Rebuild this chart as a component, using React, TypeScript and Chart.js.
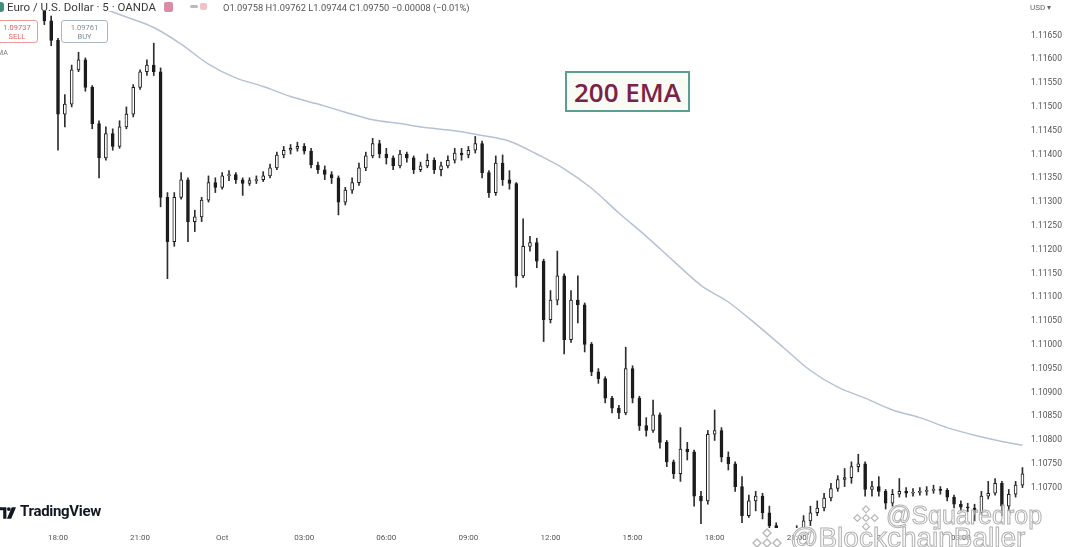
import React, { useEffect, useRef } from 'react';
import { Chart, registerables } from 'chart.js';

Chart.register(...registerables);

// ---- Data (EUR/USD, 15-minute candles) ----
const CANDLE_START_MIN = -30; // minutes relative to 18:00 of the first day
const CANDLE_STEP_MIN = 15;

const opens = [
  1.11743, 1.11681, 1.11640, 1.11485, 1.11506, 1.11578, 1.11599, 1.11541, 1.11465, 1.11393,
  1.11444, 1.11417, 1.11458, 1.11485, 1.11541, 1.11574, 1.11588, 1.11574, 1.11310, 1.11217,
  1.11310, 1.11347, 1.11259, 1.11269, 1.11304, 1.11341, 1.11331, 1.11355, 1.11358, 1.11347,
  1.11339, 1.11345, 1.11347, 1.11355, 1.11372, 1.11399, 1.11409, 1.11413, 1.11417, 1.11407,
  1.11378, 1.11368, 1.11358, 1.11351, 1.11300, 1.11325, 1.11341, 1.11372, 1.11397, 1.11423,
  1.11401, 1.11393, 1.11376, 1.11401, 1.11393, 1.11368, 1.11376, 1.11388, 1.11368, 1.11376,
  1.11388, 1.11403, 1.11399, 1.11409, 1.11423, 1.11362, 1.11320, 1.11382, 1.11347, 1.11339,
  1.11145, 1.11207, 1.11215, 1.11176, 1.11053, 1.11094, 1.11145, 1.11011, 1.11094, 1.11084,
  1.11001, 1.10943, 1.10929, 1.10888, 1.10867, 1.10857, 1.10950, 1.10888, 1.10830, 1.10820,
  1.10853, 1.10795, 1.10754, 1.10729, 1.10781, 1.10775, 1.10682, 1.10672, 1.10812, 1.10820,
  1.10764, 1.10750, 1.10702, 1.10641, 1.10672, 1.10682, 1.10647, 1.10620, 1.10589, 1.10573,
  1.10579, 1.10599, 1.10630, 1.10647, 1.10657, 1.10678, 1.10698, 1.10717, 1.10721, 1.10744,
  1.10750, 1.10696, 1.10702, 1.10692, 1.10667, 1.10686, 1.10692, 1.10688, 1.10690, 1.10692,
  1.10694, 1.10696, 1.10694, 1.10680, 1.10665, 1.10659, 1.10657, 1.10647, 1.10682, 1.10688,
  1.10709, 1.10661, 1.10686, 1.10705,
];

const highs = [
  1.11753, 1.11691, 1.11644, 1.11526, 1.11588, 1.11615, 1.11603, 1.11545, 1.11471, 1.11458,
  1.11454, 1.11471, 1.11500, 1.11547, 1.11578, 1.11599, 1.11634, 1.11582, 1.11320, 1.11320,
  1.11362, 1.11351, 1.11283, 1.11310, 1.11355, 1.11351, 1.11362, 1.11366, 1.11362, 1.11351,
  1.11351, 1.11355, 1.11364, 1.11380, 1.11405, 1.11417, 1.11421, 1.11426, 1.11423, 1.11413,
  1.11384, 1.11376, 1.11364, 1.11355, 1.11331, 1.11351, 1.11382, 1.11405, 1.11434, 1.11430,
  1.11413, 1.11397, 1.11409, 1.11405, 1.11397, 1.11384, 1.11401, 1.11393, 1.11384, 1.11397,
  1.11413, 1.11413, 1.11417, 1.11438, 1.11428, 1.11366, 1.11397, 1.11399, 1.11366, 1.11341,
  1.11265, 1.11228, 1.11224, 1.11180, 1.11114, 1.11197, 1.11149, 1.11114, 1.11145, 1.11088,
  1.11005, 1.10950, 1.10933, 1.10892, 1.10873, 1.10995, 1.10956, 1.10892, 1.10847, 1.10884,
  1.10857, 1.10799, 1.10758, 1.10826, 1.10795, 1.10779, 1.10692, 1.10820, 1.10863, 1.10826,
  1.10775, 1.10754, 1.10723, 1.10684, 1.10692, 1.10688, 1.10661, 1.10626, 1.10599, 1.10593,
  1.10620, 1.10641, 1.10661, 1.10672, 1.10688, 1.10709, 1.10725, 1.10740, 1.10754, 1.10770,
  1.10754, 1.10713, 1.10723, 1.10696, 1.10696, 1.10719, 1.10700, 1.10698, 1.10700, 1.10702,
  1.10705, 1.10702, 1.10698, 1.10684, 1.10672, 1.10667, 1.10665, 1.10692, 1.10713, 1.10719,
  1.10713, 1.10696, 1.10713, 1.10742,
];

const lows = [
  1.11673, 1.11629, 1.11409, 1.11458, 1.11500, 1.11574, 1.11533, 1.11454, 1.11351, 1.11388,
  1.11409, 1.11413, 1.11454, 1.11479, 1.11537, 1.11566, 1.11566, 1.11290, 1.11139, 1.11207,
  1.11306, 1.11217, 1.11238, 1.11259, 1.11300, 1.11320, 1.11327, 1.11345, 1.11339, 1.11314,
  1.11335, 1.11339, 1.11343, 1.11351, 1.11368, 1.11393, 1.11401, 1.11407, 1.11401, 1.11372,
  1.11360, 1.11347, 1.11339, 1.11273, 1.11294, 1.11318, 1.11335, 1.11366, 1.11393, 1.11393,
  1.11380, 1.11368, 1.11372, 1.11384, 1.11360, 1.11364, 1.11372, 1.11360, 1.11355, 1.11372,
  1.11382, 1.11388, 1.11393, 1.11403, 1.11351, 1.11310, 1.11314, 1.11335, 1.11327, 1.11121,
  1.11141, 1.11197, 1.11162, 1.11007, 1.11046, 1.11084, 1.10981, 1.11005, 1.11046, 1.10985,
  1.10935, 1.10919, 1.10878, 1.10857, 1.10845, 1.10853, 1.10878, 1.10820, 1.10808, 1.10816,
  1.10783, 1.10744, 1.10719, 1.10713, 1.10758, 1.10661, 1.10624, 1.10665, 1.10799, 1.10754,
  1.10737, 1.10692, 1.10626, 1.10637, 1.10651, 1.10634, 1.10606, 1.10569, 1.10558, 1.10558,
  1.10573, 1.10589, 1.10620, 1.10641, 1.10651, 1.10672, 1.10692, 1.10702, 1.10709, 1.10733,
  1.10682, 1.10682, 1.10682, 1.10655, 1.10661, 1.10680, 1.10680, 1.10682, 1.10684, 1.10684,
  1.10688, 1.10686, 1.10672, 1.10657, 1.10651, 1.10649, 1.10630, 1.10643, 1.10676, 1.10684,
  1.10641, 1.10651, 1.10680, 1.10700,
];

const closes = [
  1.11681, 1.11640, 1.11485, 1.11506, 1.11578, 1.11599, 1.11541, 1.11465, 1.11393, 1.11444,
  1.11417, 1.11458, 1.11485, 1.11541, 1.11574, 1.11588, 1.11574, 1.11310, 1.11217, 1.11310,
  1.11347, 1.11259, 1.11269, 1.11304, 1.11341, 1.11331, 1.11355, 1.11358, 1.11347, 1.11339,
  1.11345, 1.11347, 1.11355, 1.11372, 1.11399, 1.11409, 1.11413, 1.11417, 1.11407, 1.11378,
  1.11368, 1.11358, 1.11351, 1.11300, 1.11325, 1.11341, 1.11372, 1.11397, 1.11423, 1.11401,
  1.11393, 1.11376, 1.11401, 1.11393, 1.11368, 1.11376, 1.11388, 1.11368, 1.11376, 1.11388,
  1.11403, 1.11399, 1.11409, 1.11423, 1.11362, 1.11320, 1.11382, 1.11347, 1.11339, 1.11145,
  1.11207, 1.11215, 1.11176, 1.11053, 1.11094, 1.11145, 1.11011, 1.11094, 1.11084, 1.11001,
  1.10943, 1.10929, 1.10888, 1.10867, 1.10857, 1.10950, 1.10888, 1.10830, 1.10820, 1.10853,
  1.10795, 1.10754, 1.10729, 1.10781, 1.10775, 1.10682, 1.10672, 1.10812, 1.10820, 1.10764,
  1.10750, 1.10702, 1.10641, 1.10672, 1.10682, 1.10647, 1.10620, 1.10589, 1.10573, 1.10579,
  1.10599, 1.10630, 1.10647, 1.10657, 1.10678, 1.10698, 1.10717, 1.10721, 1.10744, 1.10750,
  1.10696, 1.10702, 1.10692, 1.10667, 1.10686, 1.10692, 1.10688, 1.10690, 1.10692, 1.10694,
  1.10696, 1.10694, 1.10680, 1.10665, 1.10659, 1.10657, 1.10647, 1.10682, 1.10688, 1.10709,
  1.10661, 1.10686, 1.10705, 1.10729,
];

// 200 EMA
const emaMinutes = [
  -30, 30, 90, 150, 210, 270, 330, 390, 450, 510, 570, 630, 690, 750, 810, 870, 930, 990,
  1050, 1110, 1170, 1230, 1290, 1350, 1410, 1470, 1530, 1590, 1650, 1710, 1770, 1830, 1890,
  1950, 2010, 2070, 2115,
];
const emaValues = [
  1.11753, 1.11732, 1.11710, 1.11689, 1.11667, 1.11632, 1.11590, 1.11561, 1.11543, 1.11522,
  1.11506, 1.11489, 1.11473, 1.11465, 1.11456, 1.11450, 1.11440, 1.11428, 1.11401, 1.11370,
  1.11329, 1.11277, 1.11228, 1.11176, 1.11125, 1.11090, 1.11044, 1.10995, 1.10946, 1.10911,
  1.10888, 1.10863, 1.10847, 1.10826, 1.10810, 1.10797, 1.10789,
];

const timeTickMinutes = [0, 180, 360, 540, 720, 900, 1080, 1260, 1440, 1620, 1800, 1980];
const timeTickLabels = ['18:00', '21:00', 'Oct', '03:00', '06:00', '09:00', '12:00', '15:00', '18:00', '21:00', '2', '03:00'];

const priceTicks = [
  1.1165, 1.116, 1.1155, 1.115, 1.1145, 1.114, 1.1135, 1.113, 1.1125, 1.112,
  1.1115, 1.111, 1.1105, 1.11, 1.1095, 1.109, 1.1085, 1.108, 1.1075, 1.107,
];

const X_MIN = -127.2;
const X_MAX = 2120.6;
const Y_MIN = 1.10615;
const Y_MAX = 1.117014;

const INK = '#1c1c1c';

function BinanceMark({ size }: { size: number }) {
  const s = size;
  const d = (cx: number, cy: number, r: number) =>
    `M${cx} ${cy - r} L${cx + r} ${cy} L${cx} ${cy + r} L${cx - r} ${cy} Z`;
  return (
    <svg width={s} height={s} viewBox="0 0 30 30" style={{ display: 'block' }}>
      <g fill="rgba(255,255,255,0.5)" stroke="#b5b5b5" strokeWidth="1.3">
        <path d={d(15, 15, 4)} />
        <path d={d(15, 5, 4)} />
        <path d={d(15, 25, 4)} />
        <path d={d(5, 15, 4)} />
        <path d={d(25, 15, 4)} />
      </g>
    </svg>
  );
}

export default function App() {
  const canvasRef = useRef<HTMLCanvasElement | null>(null);

  useEffect(() => {
    const canvas = canvasRef.current;
    if (!canvas) return;
    const candleMinutes = opens.map((_, i) => CANDLE_START_MIN + i * CANDLE_STEP_MIN);
    const wickData = candleMinutes.map((m, i) => ({ x: m, y: [lows[i], highs[i]] }));
    const bodyData = candleMinutes.map((m, i) => ({ x: m, y: [opens[i], closes[i]] }));
    const emaData = emaMinutes.map((m, i) => ({ x: m, y: emaValues[i] }));

    const chart = new Chart(canvas, {
      type: 'bar',
      data: {
        datasets: [
          {
            type: 'line',
            data: emaData as any,
            borderColor: '#b4c2d3',
            borderWidth: 1.5,
            pointRadius: 0,
            cubicInterpolationMode: 'monotone',
            order: 3,
          } as any,
          {
            type: 'bar',
            data: wickData as any,
            backgroundColor: '#2e2e2e',
            barThickness: 1,
            grouped: false,
            order: 2,
          } as any,
          {
            type: 'bar',
            data: bodyData as any,
            backgroundColor: (ctx: any) =>
              closes[ctx.dataIndex] >= opens[ctx.dataIndex] ? '#ffffff' : INK,
            borderColor: INK,
            borderWidth: 1,
            borderSkipped: false,
            barThickness: 3,
            minBarLength: 1,
            grouped: false,
            order: 1,
          } as any,
        ],
      },
      options: {
        animation: false,
        responsive: true,
        maintainAspectRatio: false,
        layout: { padding: 0 },
        plugins: { legend: { display: false }, tooltip: { enabled: false } },
        scales: {
          x: {
            type: 'linear',
            min: X_MIN,
            max: X_MAX,
            offset: false,
            grid: { display: false, drawTicks: false },
            border: { display: false },
            afterBuildTicks: (s: any) => {
              s.ticks = timeTickMinutes.map((v) => ({ value: v }));
            },
            afterFit: (s: any) => {
              s.height = 19;
            },
            ticks: {
              autoSkip: false,
              maxRotation: 0,
              padding: 5,
              color: '#555',
              font: { family: 'Roboto', size: 8 },
              callback: (_v: any, i: number) => timeTickLabels[i],
            },
          },
          y: {
            type: 'linear',
            position: 'right',
            min: Y_MIN,
            max: Y_MAX,
            grid: { display: false, drawTicks: false },
            border: { display: false },
            afterBuildTicks: (s: any) => {
              s.ticks = priceTicks.map((v) => ({ value: v }));
            },
            afterFit: (s: any) => {
              s.width = 42;
            },
            ticks: {
              padding: 6,
              color: '#555',
              font: { family: 'Roboto', size: 8.5 },
              callback: (v: any) => Number(v).toFixed(5),
            },
          },
        } as any,
      },
    });
    return () => chart.destroy();
  }, []);

  const abs = (s: React.CSSProperties): React.CSSProperties => ({
    position: 'absolute',
    pointerEvents: 'none',
    whiteSpace: 'nowrap',
    ...s,
  });

  return (
    <div
      style={{
        position: 'fixed',
        left: 0,
        top: 0,
        width: 1067,
        height: 547,
        background: '#ffffff',
        overflow: 'hidden',
        fontFamily: 'Roboto, sans-serif',
      }}
    >
      <canvas ref={canvasRef} style={{ display: 'block', width: 1067, height: 547 }} />

      {/* header */}
      <div style={abs({ left: -2, top: 2, width: 6, height: 10, borderRadius: 5, background: '#3d8f7a' })} />
      <div style={abs({ left: 7, top: 0, fontSize: 11.5, lineHeight: '15px', color: '#3a3a3a' })}>
        Euro / U.S. Dollar · 5 · OANDA
      </div>
      <div style={abs({ left: 164, top: 2, width: 9, height: 10, background: '#d98ca4', borderRadius: 2 })} />
      <div style={abs({ left: 190, top: 5, width: 8, height: 3, background: '#bbb', borderRadius: 2 })} />
      <div style={abs({ left: 200, top: 3, width: 7, height: 7, background: '#f2c0c8', borderRadius: 2 })} />
      <div style={abs({ left: 223, top: 1, fontSize: 9.3, lineHeight: '13px', color: '#555' })}>
        O1.09758 H1.09762 L1.09744 C1.09750 −0.00008 (−0.01%)
      </div>

      {/* sell / buy buttons */}
      <div
        style={abs({
          left: -4,
          top: 20,
          width: 42,
          height: 23,
          border: '1px solid #ec9a9a',
          borderRadius: 3,
          background: 'rgba(255,255,255,0.85)',
          color: '#e06060',
          fontSize: 7.5,
          lineHeight: '9px',
          textAlign: 'center',
          paddingTop: 2,
          boxSizing: 'border-box',
        })}
      >
        1.09737
        <br />
        SELL
      </div>
      <div
        style={abs({
          left: 61,
          top: 20,
          width: 47,
          height: 23,
          border: '1px solid #a9b6c4',
          borderRadius: 3,
          background: 'rgba(255,255,255,0.85)',
          color: '#7d8a99',
          fontSize: 7.5,
          lineHeight: '9px',
          textAlign: 'center',
          paddingTop: 2,
          boxSizing: 'border-box',
        })}
      >
        1.09761
        <br />
        BUY
      </div>
      <div style={abs({ left: -3, top: 49, fontSize: 7, color: '#777' })}>MA</div>

      {/* USD label */}
      <div style={abs({ left: 1030, top: 3, fontSize: 8, color: '#666' })}>USD ▾</div>

      {/* 200 EMA annotation */}
      <div
        style={abs({
          left: 565,
          top: 71,
          width: 125,
          height: 41,
          border: '2px solid #5a9e8f',
          background: '#fbfbf6',
          boxSizing: 'border-box',
          display: 'flex',
          alignItems: 'center',
          justifyContent: 'center',
          color: '#7a2348',
          fontFamily: '"Open Sans", sans-serif',
          fontWeight: 600,
          fontSize: 26,
        })}
      >
        200 EMA
      </div>

      {/* TradingView logo */}
      <svg style={abs({ left: 0, top: 507 })} width="16" height="12" viewBox="0 0 15 11">
        <path d="M0 0 H6 V11 H3 V3 H0 Z" fill="#131722" />
        <circle cx="8.3" cy="1.8" r="1.8" fill="#131722" />
        <path d="M11 0 H15 L10.5 11 H6.5 Z" fill="#131722" />
      </svg>
      <div style={abs({ left: 20, top: 502, fontSize: 15, fontWeight: 700, color: '#131722', letterSpacing: -0.3 })}>
        TradingView
      </div>

      {/* watermark */}
      <div style={abs({ left: 853, top: 505 })}>
        <BinanceMark size={26} />
      </div>
      <div style={abs({ left: 752, top: 528 })}>
        <BinanceMark size={30} />
      </div>
      <div
        style={abs({
          left: 886,
          top: 501,
          fontFamily: '"Liberation Sans", Arial, sans-serif',
          fontSize: 25,
          color: 'rgba(255,255,255,0.45)',
          WebkitTextStroke: '1px #b0b0b0',
        } as any)}
      >
        @Squaredrop
      </div>
      <div
        style={abs({
          left: 790,
          top: 522,
          fontFamily: '"Liberation Sans", Arial, sans-serif',
          fontSize: 28,
          color: 'rgba(255,255,255,0.45)',
          WebkitTextStroke: '1px #b0b0b0',
        } as any)}
      >
        @BlockchainBaller
      </div>
    </div>
  );
}
